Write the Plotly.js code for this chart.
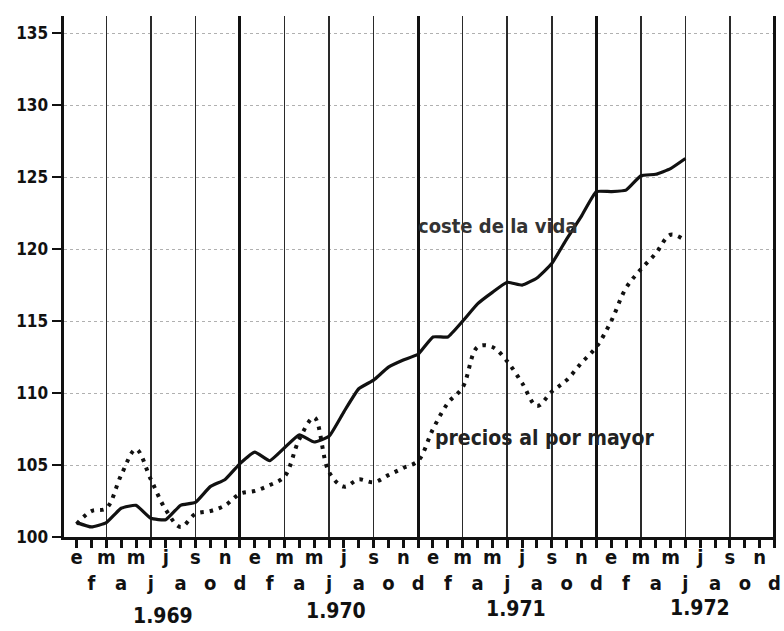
<!DOCTYPE html>
<html>
<head>
<meta charset="utf-8">
<script src="https://cdn.plot.ly/plotly-3.0.1.min.js"></script>
<style>
  html, body { margin: 0; padding: 0; background: #ffffff; }
  #chart { width: 784px; height: 631px; }
</style>
</head>
<body>
<div id="chart"></div>
<script>
// Months Jan 1969 .. Dec 1972
const meses = [
  '1969-01','1969-02','1969-03','1969-04','1969-05','1969-06','1969-07','1969-08','1969-09','1969-10','1969-11','1969-12',
  '1970-01','1970-02','1970-03','1970-04','1970-05','1970-06','1970-07','1970-08','1970-09','1970-10','1970-11','1970-12',
  '1971-01','1971-02','1971-03','1971-04','1971-05','1971-06','1971-07','1971-08','1971-09','1971-10','1971-11','1971-12',
  '1972-01','1972-02','1972-03','1972-04','1972-05','1972-06','1972-07','1972-08','1972-09','1972-10','1972-11','1972-12'
];
// Month initials (Spanish): odd months on first row, even months on second row
const letrasMes = [
  'e','f','m','a','m','j','j','a','s','o','n','d',
  'e','f','m','a','m','j','j','a','s','o','n','d',
  'e','f','m','a','m','j','j','a','s','o','n','d',
  'e','f','m','a','m','j','j','a','s','o','n','d'
];
const anios = ['1.969', '1.970', '1.971', '1.972'];
const aniosPos = [5.8, 17.5, 29.6, 42.0];          // month position of each year label
const aniosShift = [-79, -74, -72, -71];             // vertical offset of each year label

// Index values
const costeVida = [
  101.0, 100.7, 101.0, 102.0, 102.2, 101.3, 101.2, 102.2, 102.4, 103.5, 104.0, 105.1,
  105.9, 105.3, 106.2, 107.1, 106.6, 107.0, 108.7, 110.3, 110.9, 111.8, 112.3, 112.7,
  113.9, 113.9, 115.0, 116.2, 117.0, 117.7, 117.5, 118.0, 119.0, 120.7, 122.3, 124.0,
  124.0, 124.1, 125.1, 125.2, 125.6, 126.3
];
const preciosMayor = [
  100.9, 101.8, 102.0, 104.3, 106.1, 104.0, 101.9, 100.7, 101.6, 101.8, 102.2, 103.0,
  103.2, 103.6, 104.2, 106.8, 108.3, 104.5, 103.5, 104.0, 103.8, 104.3, 104.8, 105.3,
  107.5, 109.3, 110.4, 113.2, 113.2, 112.2, 110.7, 109.1, 110.1, 110.9, 112.1, 113.2,
  115.0, 117.3, 118.6, 119.7, 121.0, 120.6
];
const yTicks = [100, 105, 110, 115, 120, 125, 130, 135];

const FONT = 'Liberation Sans Narrow, DejaVu Sans Condensed, Arial Narrow, sans-serif';

const mesIdx = meses.map((_, i) => i);   // month position on the axis
const tickText = letrasMes.map((l, i) => (i % 2 === 0 ? l : '\u00a0<br>' + l));
const xRange = [-0.85, 47.1];

const traces = [
  {
    type: 'scatter', mode: 'lines', name: 'coste de la vida',
    x: mesIdx.slice(0, costeVida.length), y: costeVida,
    line: { color: '#111111', width: 3.2, shape: 'spline', smoothing: 0.4 },
    hoverinfo: 'skip'
  },
  {
    type: 'scatter', mode: 'lines', name: 'precios al por mayor',
    x: mesIdx.slice(0, preciosMayor.length), y: preciosMayor,
    line: { color: '#111111', width: 4, dash: '3.5px,6px', shape: 'spline', smoothing: 1 },
    hoverinfo: 'skip'
  },
  // invisible carriers so the overlaid rule/tick axes are drawn
  { type: 'scatter', mode: 'lines', x: mesIdx.slice(0, costeVida.length), y: costeVida,
    xaxis: 'x2', opacity: 0, hoverinfo: 'skip', showlegend: false },
  { type: 'scatter', mode: 'lines', x: mesIdx.slice(0, costeVida.length), y: costeVida,
    xaxis: 'x3', opacity: 0, hoverinfo: 'skip', showlegend: false },
  { type: 'scatter', mode: 'lines', x: mesIdx.slice(0, costeVida.length), y: costeVida,
    xaxis: 'x4', opacity: 0, hoverinfo: 'skip', showlegend: false }
];

const annotations = [
  {
    text: 'coste de la vida', xref: 'x', yref: 'y', x: 28.4, y: 121.6,
    showarrow: false, xanchor: 'center', yanchor: 'middle',
    font: { family: FONT, size: 20, color: '#333333', weight: 'bold' }
  },
  {
    text: 'precios al por mayor', xref: 'x', yref: 'y', x: 31.5, y: 106.9,
    showarrow: false, xanchor: 'center', yanchor: 'middle',
    font: { family: FONT, size: 21, color: '#222222', weight: 'bold' }
  }
].concat(anios.map((a, k) => ({
  text: a, xref: 'x', yref: 'paper', x: aniosPos[k], y: 0, yshift: aniosShift[k],
  showarrow: false, xanchor: 'center', yanchor: 'middle',
  font: { family: FONT, size: 21, color: '#111111', weight: 'bold' }
})));

const layout = {
  width: 784, height: 631,
  margin: { l: 64, r: 8, t: 16, b: 94 },
  paper_bgcolor: '#ffffff', plot_bgcolor: '#ffffff',
  showlegend: false,
  // month letters
  xaxis: {
    type: 'linear', range: xRange,
    tickmode: 'array', tickvals: mesIdx, ticktext: tickText,
    ticks: '', tickangle: 0,
    showgrid: false, zeroline: false,
    showline: true, linecolor: '#111111', linewidth: 3,
    tickfont: { family: FONT, size: 20, color: '#111111', weight: 'bold' }
  },
  // monthly tick marks
  xaxis2: {
    overlaying: 'x', anchor: 'y', side: 'bottom', range: xRange, type: 'linear',
    tickmode: 'array', tickvals: mesIdx, showticklabels: false,
    ticks: 'outside', ticklen: 10, tickwidth: 3, tickcolor: '#111111',
    showgrid: false, zeroline: false, showline: false
  },
  // quarterly vertical rules (Mar, Jun, Sep, Dec)
  xaxis3: {
    overlaying: 'x', anchor: 'y', range: xRange, type: 'linear',
    tick0: 2, dtick: 3, showticklabels: false, ticks: '',
    showgrid: true, gridcolor: '#2a2a2a', gridwidth: 1.6,
    zeroline: false, showline: false
  },
  // heavier rules at December
  xaxis4: {
    overlaying: 'x', anchor: 'y', range: xRange, type: 'linear',
    tick0: 11, dtick: 12, showticklabels: false, ticks: '',
    showgrid: true, gridcolor: '#111111', gridwidth: 3,
    zeroline: false, showline: false
  },
  yaxis: {
    range: [100, 136.2],
    tickmode: 'array', tickvals: yTicks, ticktext: yTicks.map(String),
    ticks: 'outside', ticklen: 9, tickwidth: 2, tickcolor: '#111111',
    showgrid: true, gridcolor: '#b0b0b0', gridwidth: 1, griddash: 'dot',
    zeroline: false,
    showline: true, linecolor: '#111111', linewidth: 3.5,
    tickfont: { family: FONT, size: 17, color: '#111111', weight: 'bold' }
  },
  annotations: annotations
};

Plotly.newPlot('chart', traces, layout, { displayModeBar: false, staticPlot: true });
</script>
</body>
</html>
